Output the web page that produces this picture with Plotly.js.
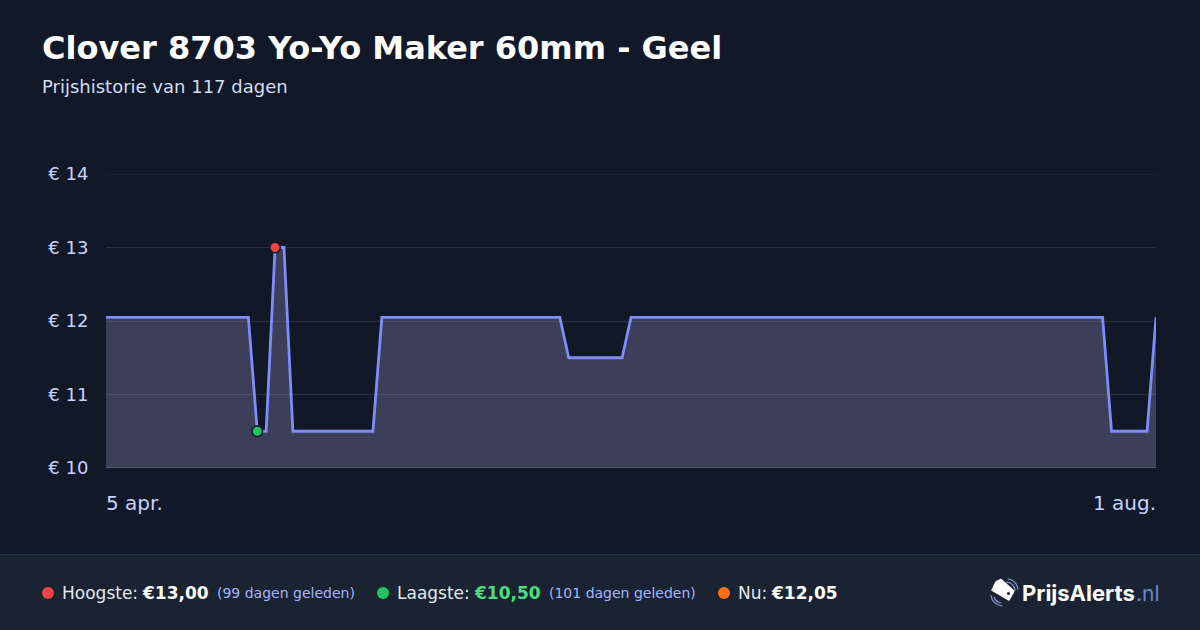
<!DOCTYPE html>
<html><head><meta charset="utf-8">
<script src="https://cdn.plot.ly/plotly-3.0.1.min.js"></script>
<style>html,body{margin:0;padding:0;background:#111827;overflow:hidden}#c{width:1200px;height:630px}</style>
</head><body><div id="c"></div>
<script>
const dates = ["2025-04-05","2025-04-06","2025-04-07","2025-04-08","2025-04-09","2025-04-10","2025-04-11","2025-04-12","2025-04-13","2025-04-14","2025-04-15","2025-04-16","2025-04-17","2025-04-18","2025-04-19","2025-04-20","2025-04-21","2025-04-22","2025-04-23","2025-04-24","2025-04-25","2025-04-26","2025-04-27","2025-04-28","2025-04-29","2025-04-30",
"2025-05-01","2025-05-02","2025-05-03","2025-05-04","2025-05-05","2025-05-06","2025-05-07","2025-05-08","2025-05-09","2025-05-10","2025-05-11","2025-05-12","2025-05-13","2025-05-14","2025-05-15","2025-05-16","2025-05-17","2025-05-18","2025-05-19","2025-05-20","2025-05-21","2025-05-22","2025-05-23","2025-05-24","2025-05-25","2025-05-26","2025-05-27","2025-05-28","2025-05-29","2025-05-30","2025-05-31",
"2025-06-01","2025-06-02","2025-06-03","2025-06-04","2025-06-05","2025-06-06","2025-06-07","2025-06-08","2025-06-09","2025-06-10","2025-06-11","2025-06-12","2025-06-13","2025-06-14","2025-06-15","2025-06-16","2025-06-17","2025-06-18","2025-06-19","2025-06-20","2025-06-21","2025-06-22","2025-06-23","2025-06-24","2025-06-25","2025-06-26","2025-06-27","2025-06-28","2025-06-29","2025-06-30",
"2025-07-01","2025-07-02","2025-07-03","2025-07-04","2025-07-05","2025-07-06","2025-07-07","2025-07-08","2025-07-09","2025-07-10","2025-07-11","2025-07-12","2025-07-13","2025-07-14","2025-07-15","2025-07-16","2025-07-17","2025-07-18","2025-07-19","2025-07-20","2025-07-21","2025-07-22","2025-07-23","2025-07-24","2025-07-25","2025-07-26","2025-07-27","2025-07-28","2025-07-29","2025-07-30","2025-07-31","2025-08-01"];
const prices = [12.05,12.05,12.05,12.05,12.05,12.05,12.05,12.05,12.05,12.05,12.05,12.05,12.05,12.05,12.05,12.05,12.05,
10.5,10.5,13,13,10.5,10.5,10.5,10.5,10.5,10.5,10.5,10.5,10.5,10.5,
12.05,12.05,12.05,12.05,12.05,12.05,12.05,12.05,12.05,12.05,12.05,12.05,12.05,12.05,12.05,12.05,12.05,12.05,12.05,12.05,12.05,
11.5,11.5,11.5,11.5,11.5,11.5,11.5,
12.05,12.05,12.05,12.05,12.05,12.05,12.05,12.05,12.05,12.05,12.05,12.05,12.05,12.05,12.05,12.05,12.05,12.05,12.05,12.05,12.05,12.05,12.05,12.05,12.05,12.05,12.05,12.05,12.05,12.05,12.05,12.05,12.05,12.05,12.05,12.05,12.05,12.05,12.05,12.05,12.05,12.05,12.05,12.05,12.05,12.05,12.05,12.05,12.05,12.05,12.05,12.05,12.05,12.05,
10.5,10.5,10.5,10.5,10.5,12.05];
const highDate = ["2025-04-24"], highPrice = [13];
const lowDate = ["2025-04-22"], lowPrice = [10.5];
const yTicks = [10,11,12,13,14];
const yTickText = ["€ 10","€ 11","€ 12","€ 13","€ 14"];
const startLabel = "5 apr.", endLabel = "1 aug.";

const L=106,R=1156,T=174,B=468;
const px=x=>(x-L)/(R-L), py=y=>(B-y)/(B-T);
const txt=(x,y,text,size,color,anchor='left',family='"DejaVu Sans"')=>({xref:'paper',yref:'paper',x:px(x),y:py(y),text,showarrow:false,xanchor:anchor,yanchor:'middle',align:anchor,font:{size,color,family},borderpad:0,borderwidth:0});
const dot=(x,y,r,color)=>({type:'circle',xref:'paper',yref:'paper',x0:px(x-r),x1:px(x+r),y0:py(y+r),y1:py(y-r),fillcolor:color,line:{width:0},layer:'above'});
const rect=(x0,y0,x1,y1,color)=>({type:'rect',xref:'paper',yref:'paper',x0:px(x0),x1:px(x1),y0:py(y1),y1:py(y0),fillcolor:color,line:{width:0},layer:'below'});
const hline=(v,color)=>({type:'line',xref:'paper',yref:'y',x0:0,x1:1,y0:v,y1:v,line:{color,width:1},layer:'above'});

const logo="data:image/svg+xml;utf8,"+encodeURIComponent('<svg xmlns="http://www.w3.org/2000/svg" viewBox="0 0 30 30" width="30" height="30"><path d="M12 1.500L25 13L20 22L3 12L7 4Z" fill="#fff" stroke="#fff" stroke-width="1.500" stroke-linejoin="round"/><circle cx="19.500" cy="15.500" r="1.600" fill="#1a2332"/><g fill="none" stroke="#8ea2e0" stroke-width="1.100" stroke-linecap="round"><path d="M19 .8A12 12 0 0 1 29 11.500"/><path d="M17.500 4A9 9 0 0 1 26 12"/><path d="M2 17.500A12 12 0 0 0 13 28"/><path d="M5 19A9 9 0 0 0 12 25"/></g></svg>');

const data=[
 {x:dates,y:prices,type:'scatter',mode:'lines',line:{color:'#818cf8',width:2.8,shape:'linear'},fill:'tozeroy',fillcolor:'rgba(160,157,205,0.3)',hoverinfo:'skip',cliponaxis:false},
 {x:highDate,y:highPrice,type:'scatter',mode:'markers',marker:{size:10.500,color:'#ef4444',line:{color:'#111827',width:1.500}},cliponaxis:false},
 {x:lowDate,y:lowPrice,type:'scatter',mode:'markers',marker:{size:10.500,color:'#22c55e',line:{color:'#111827',width:1.500}},cliponaxis:false}
];
const layout={
 width:1200,height:630,paper_bgcolor:'#111827',plot_bgcolor:'#111827',showlegend:false,
 margin:{l:L,r:1200-R,t:T,b:630-B,pad:0},
 xaxis:{type:'date',range:[dates[0],dates[dates.length-1]],showgrid:false,zeroline:false,showline:false,ticks:'',showticklabels:false,fixedrange:true},
 yaxis:{range:[10,14],tickmode:'array',tickvals:yTicks,ticktext:yTickText,showgrid:true,gridcolor:'rgba(255,255,255,0.1)',gridwidth:1,zeroline:false,showline:false,ticks:'outside',ticklen:13,tickcolor:'rgba(0,0,0,0)',tickfont:{family:'"DejaVu Sans"',size:18,color:'#c7d2fe'},fixedrange:true},
 shapes:[
  rect(0,554,1200,630,'#1a2332'),
  rect(0,554,1200,555,'#27335a'),
  hline(14,'rgba(255,255,255,0.08)'),
  hline(10,'rgba(255,255,255,0.25)'),
  dot(48,593,6,'#ef4444'),dot(383,593,6,'#22c55e'),dot(724,593,6,'#f97316')
 ],
 images:[{source:logo,xref:'paper',yref:'paper',x:px(989),y:py(578),sizex:30/(R-L),sizey:30/(B-T),xanchor:'left',yanchor:'top',sizing:'stretch',layer:'above'}],
 annotations:[
  txt(42,48,'<b>Clover 8703 Yo-Yo Maker 60mm - Geel</b>',32,'#ffffff'),
  txt(42,86.600,'Prijshistorie van 117 dagen',18,'#d3ddf5'),
  {xref:'x',yref:'paper',x:dates[0],xshift:-1,y:py(503),text:startLabel,showarrow:false,xanchor:'left',yanchor:'middle',font:{family:'"DejaVu Sans"',size:20,color:'#c7d2fe'},borderpad:0},
  {xref:'x',yref:'paper',x:dates[dates.length-1],xshift:1,y:py(503),text:endLabel,showarrow:false,xanchor:'right',yanchor:'middle',font:{family:'"DejaVu Sans"',size:20,color:'#c7d2fe'},borderpad:0},
  txt(62,593,'Hoogste:',17,'#e2e8f0'),
  txt(142,593,'<b>€13,00</b>',17,'#ffffff'),
  txt(217,593,'(99 dagen geleden)',14,'#a5b4fc'),
  txt(397,593,'Laagste:',17,'#e2e8f0'),
  txt(474,593,'<b>€10,50</b>',17,'#4ade80'),
  txt(549,593,'(101 dagen geleden)',14,'#a5b4fc'),
  txt(738,593,'Nu:',17,'#e2e8f0'),
  txt(771,593,'<b>€12,05</b>',17,'#ffffff'),
  txt(1022,593,'<b>PrijsAlerts</b>',22,'#ffffff','left','Inter'),
  txt(1135.500,593,'.nl',21,'#6f86d6','left','Inter')
 ]
};
Plotly.newPlot('c',data,layout,{staticPlot:true,displayModeBar:false});
</script></body></html>
